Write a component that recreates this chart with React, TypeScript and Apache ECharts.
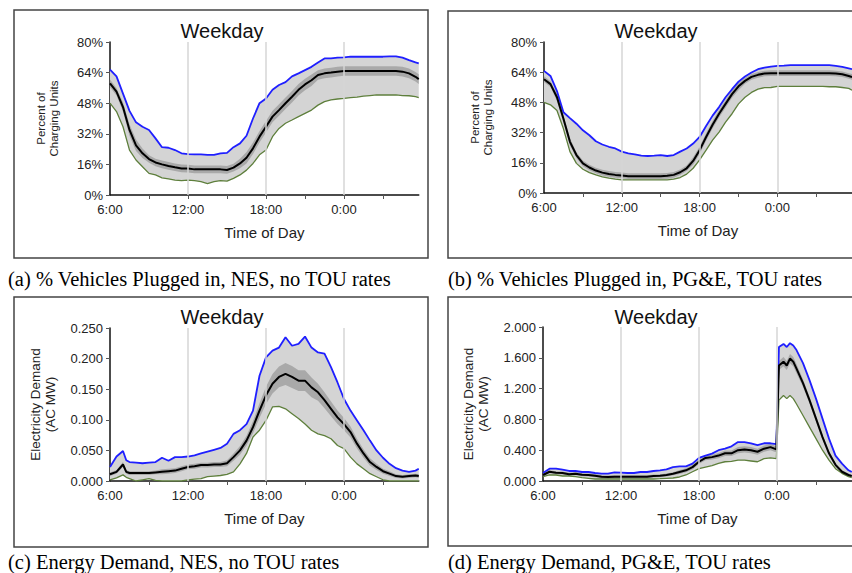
import React, { useEffect, useRef } from "react";
import * as echarts from "echarts";

// hours after 6:00
const hoursAB = [
  0, 0.5, 1, 1.5, 2, 2.5, 3, 3.5,
  4, 4.5, 5, 5.5, 6, 6.5, 7, 7.5,
  8, 8.5, 9, 9.5, 10, 10.5, 11, 11.5,
  12, 12.5, 13, 13.5, 14, 14.5, 15, 15.5,
  16, 16.5, 17, 17.5, 18, 18.5, 19, 19.5,
  20, 20.5, 21, 21.5, 22, 22.5, 23, 23.5, 23.75,
];

const aUpper = [
  65.5, 62, 53, 44, 38, 35.7, 34, 29.6,
  25, 24.7, 23.5, 21.8, 21.4, 21.2, 21.2, 21,
  21, 21.8, 22, 25, 27, 31, 40, 48,
  50.5, 55, 57.5, 59, 62, 63.6, 65.3, 67,
  69.3, 71.4, 71.4, 71.8, 72, 72.3, 72.3, 72.3,
  72.3, 72.3, 72.3, 72.5, 72.5, 71.8, 70.5, 69.3, 68.8,
];
const aMean = [
  58.4, 54, 46, 34, 26, 21.8, 18.8, 17,
  16, 15.2, 14.5, 13.9, 13.8, 13.4, 13.4, 13.4,
  13.4, 13.4, 13.1, 14.3, 16.5, 19.5, 24.4, 30.5,
  35.7, 41, 44.4, 48, 51.4, 55, 57.8, 60,
  62.7, 63.6, 64, 64.5, 64.8, 64.8, 64.8, 64.8,
  64.8, 64.8, 64.8, 64.8, 64.8, 64.5, 63.6, 61.8, 60.6,
];
const aLower = [
  48, 43.6, 35.7, 23.5, 18.3, 14.8, 11.3, 10.5,
  9, 8.4, 7.8, 7.5, 7.8, 7.5, 7, 6,
  7, 7.5, 7.3, 8.7, 10.5, 13, 16.5, 21,
  23.5, 30.5, 34.8, 37.5, 39.2, 41, 42.7, 44.4,
  47, 48.8, 49.7, 50.2, 50.5, 50.9, 51.2, 51.7,
  52, 52.3, 52.3, 52.3, 52.3, 52, 51.9, 51.4, 50.9,
];
const aSpread = [
  2, 2, 2.5, 3, 3, 2.5, 2, 2,
  2, 2, 2, 2, 2, 2, 2, 2,
  2, 2, 2, 2, 2.5, 3, 3, 3,
  3, 3, 3, 3, 3, 3, 3, 3,
  2.5, 2.5, 2.5, 2.5, 2.5, 2.5, 2.5, 2.5,
  2.5, 2.5, 2.5, 2.5, 2.5, 2.5, 2.5, 2.5, 2.5,
];

const bUpper = [
  64.7, 62, 54, 42.8, 39.7, 36.7, 33.2, 30.6,
  27.4, 25.7, 24.5, 23.6, 21.9, 21, 20.5, 19.8,
  19.6, 19.8, 20.1, 19.6, 20.1, 21.9, 23.6, 26.2,
  29.7, 35.5, 41, 45.5, 50.7, 55, 59, 61.7,
  63.8, 65.6, 66.4, 67, 67.3, 67.5, 67.8, 67.8,
  67.8, 67.8, 67.8, 67.8, 67.7, 67.3, 66.8, 66, 65.6,
];
const bMean = [
  60.3, 57.7, 50.7, 39.3, 27.1, 20.1, 15.7, 13.5,
  11.9, 10.8, 10.1, 9.6, 9.3, 8.9, 8.9, 8.9,
  8.9, 8.9, 8.9, 9.1, 9.6, 11, 13.1, 17,
  22.7, 29.7, 36.2, 42, 47.2, 52.4, 56.5, 59.4,
  61.5, 62.6, 63.3, 63.5, 63.5, 63.5, 63.5, 63.5,
  63.5, 63.5, 63.5, 63.5, 63.5, 63.3, 62.9, 62, 61.5,
];
const bLower = [
  48, 46.7, 43.7, 34, 21.9, 15.7, 12.6, 10.8,
  9.6, 8.6, 7.9, 7.3, 7, 7, 7, 7,
  7, 7, 7, 7, 7.3, 8.2, 10, 13.1,
  17.5, 22.7, 28, 32.3, 37.6, 42, 47.2, 50.7,
  53.3, 55, 55.8, 55.9, 56.5, 56.5, 56.5, 56.5,
  56.5, 56.5, 56.5, 56.5, 56.3, 56.3, 55.9, 55.4, 54.5,
];
const bSpread = [
  1.5, 1.5, 2, 2, 2, 1.5, 1.5, 1.5,
  1.5, 1.5, 1.5, 1.5, 1.5, 1.5, 1.5, 1.5,
  1.5, 1.5, 1.5, 1.5, 1.5, 1.5, 1.5, 2,
  2, 2, 2, 2, 2, 2, 2, 1.5,
  1.5, 1.5, 1.5, 1.5, 1.5, 1.5, 1.5, 1.5,
  1.5, 1.5, 1.5, 1.5, 1.5, 1.5, 1.5, 1.5, 1.5,
];

const hoursC = [
  0, 0.5, 1, 1.25, 1.5,
  2, 2.5, 3, 3.5, 4, 4.5, 5, 5.5,
  6, 6.5, 7, 7.5, 8, 8.5, 9, 9.5,
  10, 10.5, 11, 11.5, 12, 12.5, 13, 13.5,
  14, 14.5, 15, 15.5, 16, 16.5, 17, 17.5,
  18, 18.5, 19, 19.5, 20, 20.5, 21, 21.5,
  22, 22.5, 23, 23.5, 23.75,
];
const cUpper = [
  0.023, 0.04, 0.049, 0.034, 0.031,
  0.03, 0.029, 0.03, 0.031, 0.038, 0.033, 0.039, 0.039,
  0.04, 0.042, 0.045, 0.048, 0.051, 0.054, 0.061, 0.077,
  0.083, 0.093, 0.115, 0.172, 0.202, 0.213, 0.218, 0.235,
  0.221, 0.224, 0.236, 0.218, 0.21, 0.208, 0.186, 0.161,
  0.134, 0.115, 0.099, 0.083, 0.066, 0.05, 0.038, 0.028,
  0.021, 0.017, 0.015, 0.017, 0.02,
];
const cMean = [
  0.011, 0.015, 0.027, 0.015, 0.013,
  0.013, 0.013, 0.013, 0.014, 0.015, 0.016, 0.017, 0.02,
  0.023, 0.024, 0.026, 0.026, 0.027, 0.027, 0.029, 0.039,
  0.05, 0.066, 0.088, 0.115, 0.14, 0.159, 0.17, 0.175,
  0.17, 0.164, 0.164, 0.153, 0.145, 0.132, 0.118, 0.104,
  0.093, 0.08, 0.061, 0.045, 0.031, 0.023, 0.016, 0.012,
  0.008, 0.007, 0.008, 0.009, 0.008,
];
const cLower = [
  0.002, 0.005, 0.01, 0.006, 0.004,
  0.0, 0.002, 0.004, 0.001, 0.0, 0.0, 0.0, 0.0,
  0.002, 0.003, 0.004, 0.007, 0.008, 0.009, 0.011, 0.015,
  0.028, 0.045, 0.072, 0.083, 0.099, 0.121, 0.122, 0.118,
  0.11, 0.102, 0.093, 0.083, 0.077, 0.074, 0.069, 0.058,
  0.053, 0.039, 0.028, 0.02, 0.012, 0.007, 0.002, 0.0,
  0.0, 0.0, 0.0, 0.0, 0.0,
];
const cSpread = [
  0.003, 0.003, 0.004, 0.003, 0.003,
  0.003, 0.003, 0.003, 0.003, 0.004, 0.004, 0.004, 0.004,
  0.004, 0.004, 0.004, 0.004, 0.004, 0.004, 0.005, 0.006,
  0.007, 0.008, 0.01, 0.012, 0.014, 0.016, 0.017, 0.018,
  0.018, 0.017, 0.017, 0.016, 0.014, 0.013, 0.012, 0.011,
  0.01, 0.009, 0.008, 0.007, 0.006, 0.005, 0.004, 0.004,
  0.003, 0.003, 0.003, 0.003, 0.003,
];

const hoursD = [
  0, 0.5, 1, 1.5, 2, 2.5, 3, 3.5,
  4, 4.5, 5, 5.5, 6, 6.5, 7, 7.5,
  8, 8.5, 9, 9.5, 10, 10.5, 11, 11.5,
  12, 12.5, 13, 13.5, 14, 14.5, 15, 15.5,
  16, 16.5, 17, 17.5, 17.95,
  18.15, 18.5, 18.75, 19, 19.25, 19.5,
  20, 20.5, 21, 21.5, 22, 22.5, 23, 23.5, 23.75,
];
const dUpper = [
  0.104, 0.16, 0.16, 0.147, 0.13, 0.13, 0.117, 0.117,
  0.104, 0.095, 0.095, 0.112, 0.108, 0.104, 0.104, 0.117,
  0.117, 0.13, 0.139, 0.15, 0.18, 0.19, 0.19, 0.225,
  0.3, 0.33, 0.355, 0.4, 0.42, 0.45, 0.505, 0.505,
  0.49, 0.465, 0.49, 0.49, 0.48,
  1.74, 1.78, 1.74, 1.79, 1.76, 1.7,
  1.53, 1.31, 1.07, 0.81, 0.55, 0.33, 0.225, 0.139, 0.117,
];
const dMean = [
  0.078, 0.12, 0.108, 0.104, 0.087, 0.095, 0.082, 0.078,
  0.069, 0.056, 0.052, 0.056, 0.056, 0.056, 0.056, 0.056,
  0.056, 0.065, 0.069, 0.078, 0.095, 0.117, 0.139, 0.18,
  0.25, 0.3, 0.31, 0.33, 0.36, 0.36, 0.4, 0.41,
  0.4, 0.38, 0.42, 0.44, 0.41,
  1.5, 1.55, 1.5, 1.59, 1.55, 1.46,
  1.27, 1.05, 0.81, 0.57, 0.36, 0.21, 0.12, 0.078, 0.065,
];
const dLower = [
  0.056, 0.078, 0.078, 0.065, 0.065, 0.056, 0.043, 0.035,
  0.026, 0.026, 0.026, 0.026, 0.026, 0.026, 0.026, 0.026,
  0.026, 0.026, 0.03, 0.035, 0.039, 0.052, 0.078, 0.12,
  0.16, 0.18, 0.2, 0.23, 0.25, 0.255, 0.27, 0.27,
  0.26, 0.25, 0.29, 0.3, 0.29,
  1.05, 1.11, 1.07, 1.11, 1.07, 1.0,
  0.85, 0.7, 0.55, 0.4, 0.27, 0.16, 0.1, 0.056, 0.043,
];
const dSpread = [
  0.02, 0.02, 0.02, 0.02, 0.02, 0.02, 0.02, 0.02,
  0.02, 0.02, 0.02, 0.02, 0.02, 0.02, 0.02, 0.02,
  0.02, 0.02, 0.02, 0.02, 0.02, 0.025, 0.025, 0.03,
  0.03, 0.03, 0.03, 0.035, 0.035, 0.035, 0.04, 0.04,
  0.04, 0.04, 0.04, 0.04, 0.04,
  0.06, 0.06, 0.06, 0.06, 0.06, 0.06,
  0.05, 0.045, 0.04, 0.035, 0.03, 0.025, 0.02, 0.015, 0.015,
];

const xTickLabels = ["6:00", "12:00", "18:00", "0:00"];
const xLabelValues = [0, 6, 12, 18];
const xTickValues = [3, 6, 9, 12, 15, 18, 21];
const gridLineValues = [6, 12, 18];
const titleText = "Weekday";
const xName = "Time of Day";
const captions = [
  "(a) % Vehicles Plugged in, NES, no TOU rates",
  "(b) % Vehicles Plugged in, PG&E, TOU rates",
  "(c) Energy Demand, NES, no TOU rates",
  "(d) Energy Demand, PG&E, TOU rates",
];

const SANS = "'Liberation Sans', Arial, Helvetica, sans-serif";
const SERIF = "'Liberation Serif', 'Times New Roman', serif";

const panels = [
  { h: hoursAB, up: aUpper, mean: aMean, low: aLower, sp: aSpread, max: 80, interval: 16,
    fmt: (v: number) => v + "%", yName: "Percent of\nCharging Units", yNameSize: 11.5, yNameLH: 13, yNameGap: 50,
    grid: { left: 110, top: 42, width: 308.75, height: 153 },
    box: { x: 14, y: 10, width: 414, height: 248 }, title: { x: 222, y: 31 }, cap: { x: 8, y: 279 } },
  { h: hoursAB, up: bUpper, mean: bMean, low: bLower, sp: bSpread, max: 80, interval: 16,
    fmt: (v: number) => v + "%", yName: "Percent of\nCharging Units", yNameSize: 11.5, yNameLH: 13, yNameGap: 50,
    grid: { left: 544, top: 42, width: 308.75, height: 151 },
    box: { x: 448, y: 11, width: 420, height: 247 }, title: { x: 656, y: 31 }, cap: { x: 448, y: 279 } },
  { h: hoursC, up: cUpper, mean: cMean, low: cLower, sp: cSpread, max: 0.25, interval: 0.05,
    fmt: (v: number) => v.toFixed(3), yName: "Electricity Demand\n(AC MW)", yNameSize: 13.5, yNameLH: 15, yNameGap: 52,
    grid: { left: 110, top: 328, width: 308.75, height: 153 },
    box: { x: 14, y: 297, width: 414, height: 250 }, title: { x: 222, y: 317 }, cap: { x: 8, y: 562 } },
  { h: hoursD, up: dUpper, mean: dMean, low: dLower, sp: dSpread, max: 2, interval: 0.4,
    fmt: (v: number) => v.toFixed(3), yName: "Electricity Demand\n(AC MW)", yNameSize: 13.5, yNameLH: 15, yNameGap: 52,
    grid: { left: 543, top: 327, width: 308.75, height: 154 },
    box: { x: 448, y: 297, width: 420, height: 249 }, title: { x: 656, y: 317 }, cap: { x: 448, y: 562 } },
];

function bandSeries(i: number, rows: number[][], color: string, z: number) {
  return {
    type: "custom",
    xAxisIndex: i,
    yAxisIndex: i,
    silent: true,
    z,
    clip: true,
    encode: { x: 0, y: [1, 2] },
    data: rows,
    renderItem: (params: any, api: any) => {
      if (params.dataIndex !== 0) return null;
      const top = rows.map((r) => api.coord([r[0], r[2]]));
      const bottom = rows.map((r) => api.coord([r[0], r[1]])).reverse();
      return {
        type: "polygon",
        shape: { points: top.concat(bottom) },
        style: { fill: color, stroke: "none" },
      };
    },
  };
}

function buildOption() {
  const grids: any[] = [];
  const xAxes: any[] = [];
  const yAxes: any[] = [];
  const series: any[] = [];
  const graphics: any[] = [];

  panels.forEach((p, i) => {
    const pts = (vals: number[]) => p.h.map((x, k) => [x, vals[k]]);
    grids.push({ ...p.grid, containLabel: false });
    xAxes.push({
      type: "value", gridIndex: i, min: 0, max: 23.75,
      axisLine: { show: true, onZero: false, lineStyle: { color: "#111", width: 1.5 } },
      axisTick: { show: true, customValues: xTickValues, length: 4, lineStyle: { color: "#555" } },
      axisLabel: {
        customValues: xLabelValues, margin: 8, fontSize: 13, color: "#222", fontFamily: SANS,
        formatter: (v: number) => xTickLabels[xLabelValues.indexOf(v)] ?? "",
      },
      splitLine: { show: false },
      name: xName, nameLocation: "middle", nameGap: 30,
      nameTextStyle: { fontSize: 15, color: "#222", fontFamily: SANS },
    });
    yAxes.push({
      type: "value", gridIndex: i, min: 0, max: p.max, interval: p.interval,
      axisLine: { show: true, lineStyle: { color: "#111", width: 1.5 } },
      axisTick: { show: true, length: 4, lineStyle: { color: "#555" } },
      axisLabel: { fontSize: 13, color: "#222", margin: 7, fontFamily: SANS, formatter: p.fmt },
      splitLine: { show: false },
      name: p.yName, nameLocation: "middle", nameGap: p.yNameGap, nameRotate: 90,
      nameTextStyle: { fontSize: p.yNameSize, lineHeight: p.yNameLH, color: "#222", fontFamily: SANS, align: "center" },
    });
    const common = { type: "line", xAxisIndex: i, yAxisIndex: i, symbol: "none", silent: true };
    const outerRows = p.h.map((x, k) => [x, p.low[k], p.up[k]]);
    const innerRows = p.h.map((x, k) => [x, Math.max(0, p.mean[k] - p.sp[k]), p.mean[k] + p.sp[k]]);
    series.push({
      ...common, data: [], z: 1,
      markLine: {
        silent: true, symbol: "none", label: { show: false },
        lineStyle: { color: "#d6d6d6", width: 1.5, type: "solid" },
        data: gridLineValues.map((v) => ({ xAxis: v })),
      },
    });
    series.push(bandSeries(i, outerRows, "#d4d4d4", 2));
    series.push(bandSeries(i, innerRows, "#a9a9a9", 2));
    series.push({ ...common, z: 3, data: pts(p.low), lineStyle: { color: "#5e7f3c", width: 1.3 } });
    series.push({ ...common, z: 3, data: pts(p.up), lineStyle: { color: "#1f1fff", width: 1.8 } });
    series.push({ ...common, z: 4, data: pts(p.mean), lineStyle: { color: "#000", width: 2 } });

    graphics.push({
      type: "rect", shape: { ...p.box }, z: 0,
      style: { fill: "none", stroke: "#444", lineWidth: 1.5 },
    });
    graphics.push({
      type: "text", x: p.title.x, y: p.title.y, z: 10,
      style: { text: titleText, fontSize: 20, fontFamily: SANS, fill: "#111", align: "center", verticalAlign: "middle" },
    });
    graphics.push({
      type: "text", x: p.cap.x, y: p.cap.y, z: 10,
      style: { text: captions[i], fontSize: 20.5, fontFamily: SERIF, fill: "#000", align: "left", verticalAlign: "middle" },
    });
  });

  return {
    animation: false,
    backgroundColor: "#fff",
    grid: grids,
    xAxis: xAxes,
    yAxis: yAxes,
    series,
    graphic: graphics,
  };
}

export default function App() {
  const ref = useRef<HTMLDivElement>(null);
  useEffect(() => {
    if (!ref.current) return;
    const chart = echarts.init(ref.current, undefined, { renderer: "svg" });
    chart.setOption(buildOption() as any);
    return () => chart.dispose();
  }, []);
  return (
    <div
      ref={ref}
      style={{ position: "fixed", left: 0, top: 0, width: 852, height: 573, background: "#fff" }}
    />
  );
}
